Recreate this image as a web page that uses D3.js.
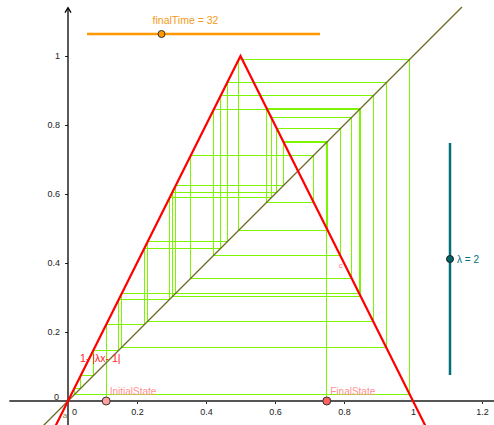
<!DOCTYPE html>
<meta charset="utf-8">
<head>
  <title>Tent map cobweb</title>
</head>

<style>
body { margin: 0; background: white; }
text { font-family: "Liberation Sans", Arial, sans-serif; }
.tick text { font-size: 9px; fill: #222; }
.tick line { stroke: #222; }
</style>

<body>
  <svg width="494" height="425"></svg>

  <script src="https://cdnjs.cloudflare.com/ajax/libs/d3/7.8.5/d3.min.js"></script>
  <script>

// slider values
const lambda = 2;
const finalTime = 32;

// orbit of the tent map (initial state first, final state last)
const orbit = [0.1106, 0.2212, 0.4424, 0.8848, 0.2305, 0.4610, 0.9220, 0.1560,
  0.3119, 0.6238, 0.7523, 0.4954, 0.9908, 0.0184, 0.0368, 0.0736, 0.1473,
  0.2945, 0.5890, 0.8220, 0.3561, 0.7122, 0.5757, 0.8486, 0.3027, 0.6055,
  0.7891, 0.4219, 0.8438, 0.3125, 0.6250, 0.7500];

// corners of the curve 1-|λx-1|
const tentX = [-0.04, 0.5, 1.04];
const tentY = [-0.08, 1, -0.08];

// line y = x
const diagX = [-0.1, 1.142];

const xTicks = [0, 0.2, 0.4, 0.6, 0.8, 1, 1.2];
const yTicks = [0, 0.2, 0.4, 0.6, 0.8, 1];

const svg = d3.select('svg');

const x = d3.scaleLinear().domain([0, 1]).range([68, 413]);
const y = d3.scaleLinear().domain([0, 1]).range([401, 56]);

// axes
const xAxis = d3.axisBottom(x).tickValues(xTicks).tickSize(3).tickSizeOuter(0)
  .tickFormat(d3.format('~g'));
const yAxis = d3.axisLeft(y).tickValues(yTicks.filter(d => d > 0)).tickSize(3).tickSizeOuter(0)
  .tickFormat(d3.format('~g'));

const gx = svg.append('g').attr('transform', 'translate(0,' + y(0) + ')').call(xAxis);
gx.select('.domain').remove();
gx.selectAll('.tick text').attr('dy', '0.9em')
  .filter(d => d === 0).attr('dx', 6);
gx.selectAll('.tick line').filter(d => d === 0).remove();

const gy = svg.append('g').attr('transform', 'translate(' + x(0) + ',0)').call(yAxis);
gy.select('.domain').remove();
gy.selectAll('.tick text').attr('dx', -2);
gy.append('text')
  .attr('x', -9).attr('y', y(0) - 1)
  .attr('text-anchor', 'end')
  .style('font-size', '9px').style('fill', '#222')
  .text('0');

svg.append('line')
  .attr('x1', x(-0.17)).attr('x2', x(1.24))
  .attr('y1', y(0)).attr('y2', y(0))
  .attr('stroke', '#555').attr('stroke-width', 1.8);

svg.append('line')
  .attr('x1', x(0)).attr('x2', x(0))
  .attr('y1', y(-0.08)).attr('y2', y(1.14))
  .attr('stroke', '#000').attr('stroke-width', 1.3);
svg.append('path')
  .attr('d', 'M' + (x(0) - 3) + ',' + (y(1.14) + 5) + 'L' + x(0) + ',' + y(1.14) + 'L' + (x(0) + 3) + ',' + (y(1.14) + 5))
  .attr('fill', 'none').attr('stroke', '#000').attr('stroke-width', 1.3);

// cobweb
let web = [[orbit[0], 0]];
for (let i = 0; i < orbit.length - 1; i++) {
  web.push([orbit[i], orbit[i + 1]]);
  web.push([orbit[i + 1], orbit[i + 1]]);
}
web.push([orbit[orbit.length - 1], 0]);

const line = d3.line().x(d => x(d[0])).y(d => y(d[1]));

svg.append('path')
  .datum(web)
  .attr('d', line)
  .attr('fill', 'none')
  .attr('stroke', '#7ef500')
  .attr('stroke-width', 1)
  .attr('shape-rendering', 'crispEdges');

// y = x
svg.append('path')
  .datum(diagX.map(d => [d, d]))
  .attr('d', line)
  .attr('stroke', '#6e6a22')
  .attr('stroke-width', 1.3);

// tent curve
svg.append('path')
  .datum(tentX.map((d, i) => [d, tentY[i]]))
  .attr('d', line)
  .attr('fill', 'none')
  .attr('stroke', '#ff0000')
  .attr('stroke-width', 2.2);

svg.append('text')
  .attr('x', x(0.035)).attr('y', y(0.113))
  .style('font-size', '10.5px').style('fill', '#ff2020')
  .text('1- |λx- 1|');

svg.append('text')
  .attr('x', x(-0.015)).attr('y', y(-0.05))
  .style('font-size', '8px').style('fill', '#85814a')
  .text('a');

svg.append('text')
  .attr('x', x(0.785)).attr('y', y(0.385))
  .style('font-size', '8px').style('fill', '#ff8080')
  .text('c');

// initial and final states
const states = [
  {name: 'InitialState', value: orbit[0], fill: '#ff9f9f'},
  {name: 'FinalState', value: orbit[orbit.length - 1], fill: '#ff6060'}
];

svg.selectAll('.state')
  .data(states)
  .enter()
  .append('circle')
  .attr('cx', d => x(d.value))
  .attr('cy', y(0))
  .attr('r', 4)
  .attr('fill', d => d.fill)
  .attr('stroke', '#333')
  .attr('stroke-width', 1);

svg.selectAll('.statelabel')
  .data(states)
  .enter()
  .append('text')
  .attr('x', d => x(d.value) + 3.5)
  .attr('y', y(0) - 6)
  .style('font-size', '10px')
  .style('fill', '#ff9090')
  .text(d => d.name);

// finalTime slider
const tScale = d3.scaleLinear().domain([0, 100]).range([87, 320]);
svg.append('line')
  .attr('x1', tScale(0)).attr('x2', tScale(100))
  .attr('y1', 34).attr('y2', 34)
  .attr('stroke', '#ff9900').attr('stroke-width', 2.5);
svg.append('circle')
  .attr('cx', tScale(finalTime)).attr('cy', 34).attr('r', 3.5)
  .attr('fill', '#ff9900').attr('stroke', '#333').attr('stroke-width', 1);
svg.append('text')
  .attr('x', tScale(finalTime) - 9).attr('y', 24)
  .style('font-size', '10.5px').style('fill', '#f59a20')
  .text('finalTime = ' + finalTime);

// lambda slider
const lScale = d3.scaleLinear().domain([0, 4]).range([375, 143]);
svg.append('line')
  .attr('x1', 450).attr('x2', 450)
  .attr('y1', lScale(0)).attr('y2', lScale(4))
  .attr('stroke', '#007078').attr('stroke-width', 2.5);
svg.append('circle')
  .attr('cx', 450).attr('cy', lScale(lambda)).attr('r', 3.5)
  .attr('fill', '#006466').attr('stroke', '#222').attr('stroke-width', 1);
svg.append('text')
  .attr('x', 457).attr('y', lScale(lambda) + 3.5)
  .style('font-size', '10px').style('fill', '#007078')
  .text('λ = ' + lambda);

  </script>
</body>
</html>
